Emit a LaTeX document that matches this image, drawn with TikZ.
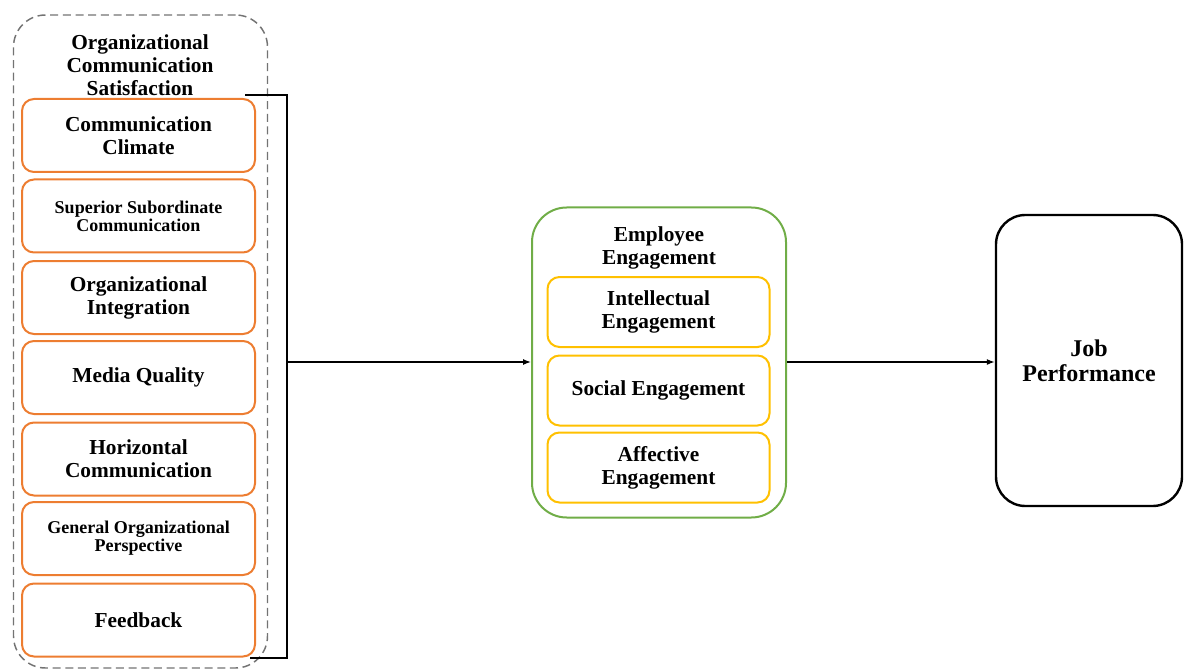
\documentclass[tikz,border=0pt]{standalone}
\usepackage{fontspec}
\setmainfont{Liberation Serif}
\usetikzlibrary{arrows.meta}

\definecolor{dimorange}{RGB}{237,125,49}
\definecolor{engyellow}{RGB}{255,192,0}
\definecolor{enggreen}{RGB}{112,173,71}

\begin{document}
\begin{tikzpicture}[x=0.75pt, y=-0.75pt, font=\bfseries]
\useasboundingbox (0,0) rectangle (1184,670);
% box styles
\tikzset{big/.style={font=\bfseries\fontsize{16}{17.25}\selectfont, align=center},
         small/.style={font=\bfseries\fontsize{13.5}{13.5}\selectfont, align=center},
         dim/.style={draw=dimorange, line width=1.5pt, rounded corners=9pt, minimum width=174.75pt, minimum height=54.75pt, inner sep=0pt},
         eng/.style={draw=engyellow, line width=1.5pt, rounded corners=9pt, minimum width=166.5pt, minimum height=52.5pt, inner sep=0pt},
         link/.style={-{Latex[length=6pt,width=4.5pt]}, line width=1pt}}

% ---- organizational communication satisfaction
\node[draw=black!55, dashed, dash pattern=on 6pt off 3.5pt, line width=1.1pt, rounded corners=24pt,
      minimum width=190.5pt, minimum height=489.75pt] (ocs) at (140.5,341.5) {};
\node[big] (ocstitle) at (140,65) {Organizational\\Communication\\Satisfaction};
\node[dim, big]   (cc)  at (138.5,135.5) {Communication\\Climate};
\node[dim, small] (ssc) at (138.5,216)   {Superior Subordinate\\Communication};
\node[dim, big]   (oi)  at (138.5,297.5) {Organizational\\Integration};
\node[dim, big]   (mq)  at (138.5,377.5) {Media Quality};
\node[dim, big]   (hc)  at (138.5,459)   {Horizontal\\Communication};
\node[dim, small] (gop) at (138.5,538.5) {General Organizational\\Perspective};
\node[dim, big]   (fb)  at (138.5,620)   {Feedback};

% ---- bracket
\coordinate (brtop) at (245,95);
\coordinate (brbot) at (250,658);
\coordinate (brmid) at (287,362);
\draw[line width=1.5pt] (brtop) -| (brmid) |- (brbot);

% ---- employee engagement
\node[draw=enggreen, line width=1.5pt, rounded corners=26pt, minimum width=190.5pt, minimum height=232.5pt] (ee) at (659,362.5) {};
\node[big] (eetitle) at (659,248) {Employee\\Engagement};
\node[eng, big] (ie) at (658.5,312)   {Intellectual\\Engagement};
\node[eng, big] (se) at (658.5,390.5) {Social Engagement};
\node[eng, big] (ae) at (658.5,467.5) {Affective\\Engagement};

% ---- job performance
\node[draw, line width=1.8pt, rounded corners=22pt, minimum width=139.5pt, minimum height=218.25pt,
      font=\bfseries\fontsize{18}{19}\selectfont, align=center] (jp) at (1089,360.5) {Job\\Performance};

% ---- links
\draw[link] (brmid) -- (brmid -| ee.west);
\draw[link] (ee.east |- brmid) -- (brmid -| jp.west);
\end{tikzpicture}
\end{document}
